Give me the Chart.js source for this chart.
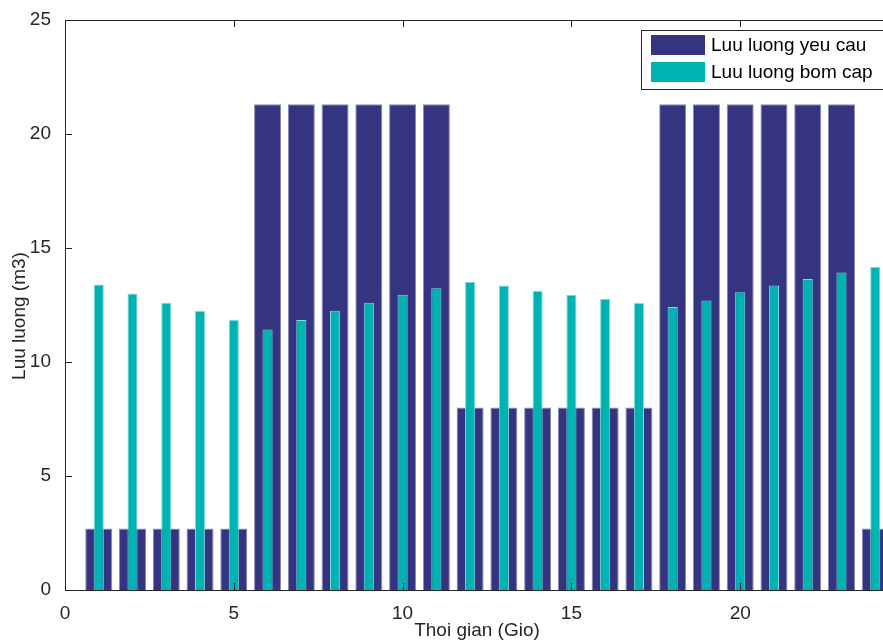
<!DOCTYPE html>
<html lang="vi">
<head>
  <meta charset="UTF-8" />
  <title>Luu luong</title>
  <script src="https://cdn.jsdelivr.net/npm/chart.js"></script>
  <style>
    html, body {
      margin: 0;
      padding: 0;
      background: #fff;
      overflow: hidden;
      width: 883px;
      height: 642px;
    }
    canvas { display: block; }
  </style>
</head>
<body>
  <canvas id="flowChart" width="931" height="642"></canvas>

  <script>
    const hours = [1, 2, 3, 4, 5, 6, 7, 8, 9, 10, 11, 12, 13, 14, 15, 16, 17, 18, 19, 20, 21, 22, 23, 24];
    const demand = [2.7, 2.7, 2.7, 2.7, 2.7, 21.3, 21.3, 21.3, 21.3, 21.3, 21.3, 8.0, 8.0, 8.0, 8.0, 8.0, 8.0, 21.3, 21.3, 21.3, 21.3, 21.3, 21.3, 2.7];
    const pumped = [13.4, 13.0, 12.6, 12.25, 11.84, 11.43, 11.84, 12.25, 12.6, 12.95, 13.23, 13.52, 13.36, 13.13, 12.95, 12.76, 12.59, 12.41, 12.7, 13.06, 13.35, 13.64, 13.93, 14.18];
    const seriesNames = ['Luu luong yeu cau', 'Luu luong bom cap'];
    const xTicks = [0, 5, 10, 15, 20, 25];
    const yTicks = [0, 5, 10, 15, 20, 25];

    const navy = '#343480';
    const teal = '#00b3b3';
    const font = "'Liberation Sans', Arial, sans-serif";
    const textColor = '#262626';

    function points(vals) {
      return hours.map((h, i) => ({ x: h, y: vals[i] }));
    }

    // khung, vach chia ben trong, nhan truc va chu thich kieu MATLAB
    const matlabFrame = {
      id: 'matlabFrame',
      afterDraw(chart) {
        const ctx = chart.ctx;
        const a = chart.chartArea;
        const xs = chart.scales.x;
        const ys = chart.scales.y;
        ctx.save();
        ctx.strokeStyle = '#262626';
        ctx.lineWidth = 1;
        ctx.strokeRect(a.left + 0.5, a.top + 0.5, a.right - a.left, a.bottom - a.top);

        ctx.beginPath();
        xTicks.forEach(t => {
          const px = Math.round(xs.getPixelForValue(t)) + 0.5;
          ctx.moveTo(px, a.bottom); ctx.lineTo(px, a.bottom - 7);
          ctx.moveTo(px, a.top); ctx.lineTo(px, a.top + 7);
        });
        yTicks.forEach(t => {
          const py = Math.round(ys.getPixelForValue(t)) + 0.5;
          ctx.moveTo(a.left, py); ctx.lineTo(a.left + 7, py);
          ctx.moveTo(a.right, py); ctx.lineTo(a.right - 7, py);
        });
        ctx.stroke();

        ctx.fillStyle = textColor;
        ctx.font = '19px ' + font;
        ctx.textAlign = 'center';
        ctx.textBaseline = 'middle';
        ctx.fillText('Thoi gian (Gio)', 477, 631);
        ctx.save();
        ctx.translate(20, 316);
        ctx.rotate(-Math.PI / 2);
        ctx.fillText('Luu luong (m3)', 0, 0);
        ctx.restore();

        // chu thich
        const lx = 641, ly = 30;
        ctx.fillStyle = '#fff';
        ctx.fillRect(lx, ly, 280, 59);
        ctx.strokeStyle = '#262626';
        ctx.strokeRect(lx + 0.5, ly + 0.5, 280, 59);
        [navy, teal].forEach((c, i) => {
          const y0 = 35 + i * 27;
          ctx.fillStyle = c;
          ctx.fillRect(651, y0, 54, 20);
          ctx.fillStyle = '#000';
          ctx.font = '19px ' + font;
          ctx.textAlign = 'left';
          ctx.textBaseline = 'middle';
          ctx.fillText(seriesNames[i], 711, y0 + 11);
        });
        ctx.restore();
      }
    };

    new Chart(document.getElementById('flowChart'), {
      type: 'bar',
      data: {
        datasets: [{
          label: seriesNames[0],
          data: points(demand),
          backgroundColor: navy,
          borderColor: '#8a8ab5',
          borderWidth: 1,
          barPercentage: 0.8,
          categoryPercentage: 1,
          grouped: false,
          order: 1
        }, {
          label: seriesNames[1],
          data: points(pumped),
          backgroundColor: teal,
          borderColor: '#7fdcdc',
          borderWidth: 1,
          barPercentage: 0.3,
          categoryPercentage: 1,
          grouped: false,
          order: 0
        }]
      },
      options: {
        responsive: false,
        animation: false,
        layout: { padding: { left: 0, top: 20, right: 22, bottom: 0 } },
        plugins: {
          legend: { display: false },
          tooltip: { enabled: false }
        },
        scales: {
          x: {
            type: 'linear',
            offset: false,
            min: 0,
            max: 25,
            afterBuildTicks: s => { s.ticks = xTicks.map(v => ({ value: v })); },
            afterFit: s => { s.height = 52; },
            grid: { display: false },
            border: { display: false },
            ticks: { color: textColor, font: { family: font, size: 19 }, padding: 4, maxRotation: 0 }
          },
          y: {
            min: 0,
            max: 25,
            afterBuildTicks: s => { s.ticks = yTicks.map(v => ({ value: v })); },
            afterFit: s => { s.width = 65; },
            grid: { display: false },
            border: { display: false },
            ticks: { color: textColor, font: { family: font, size: 19 }, padding: 6 }
          }
        }
      },
      plugins: [matlabFrame]
    });
  </script>
</body>
</html>
